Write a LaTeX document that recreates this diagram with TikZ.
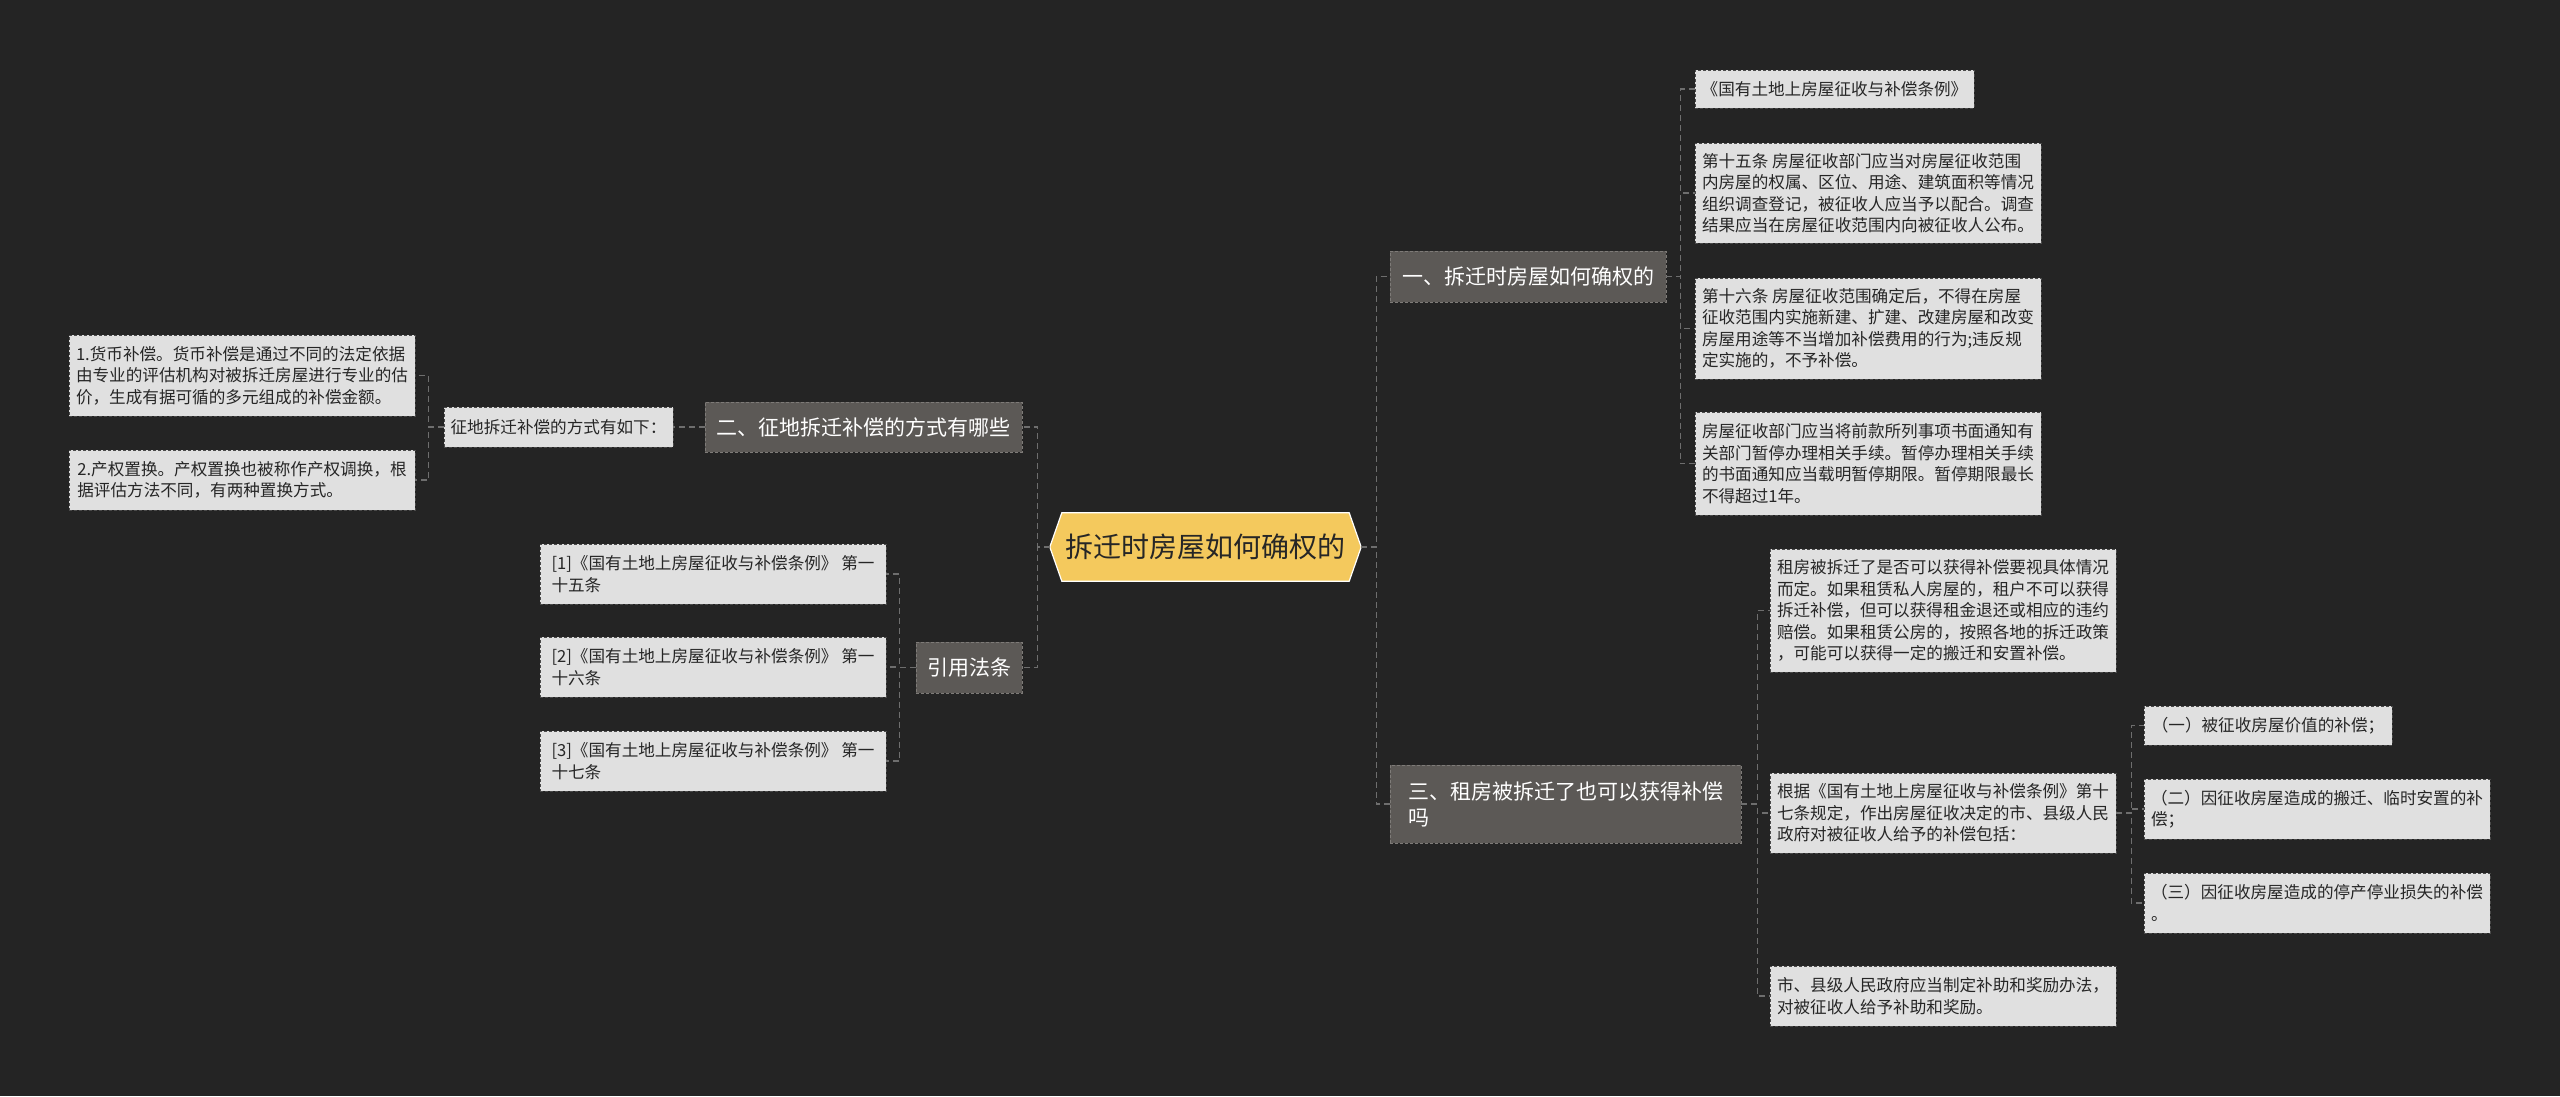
\documentclass[tikz,border=0pt]{standalone}
\usepackage{fontspec}
\newfontfamily\cjk{Noto Sans CJK SC}
\definecolor{bg}{HTML}{242424}
\definecolor{leaffill}{HTML}{E0E0E0}
\definecolor{leafborder}{HTML}{4A4A4A}
\definecolor{leaftext}{HTML}{262626}
\definecolor{topicfill}{HTML}{5C5956}
\definecolor{topicborder}{HTML}{7E7B78}
\definecolor{rootfill}{HTML}{F4C95D}
\definecolor{linkc}{HTML}{6E6E6E}
\begin{document}
\begin{tikzpicture}[x=1pt,y=-1pt,
  leaf/.style={draw=leafborder, dash pattern=on 3pt off 2pt, line width=0.9pt, fill=leaffill, text=leaftext,
    font=\cjk\fontsize{16.6}{21.5}\selectfont, align=left, inner sep=0pt},
  topic/.style={draw=topicborder, dash pattern=on 3pt off 2pt, line width=0.9pt, fill=topicfill, text=white,
    font=\cjk\fontsize{21}{26}\selectfont, align=left, inner sep=0pt},
  link/.style={draw=linkc, line width=1.3pt, dash pattern=on 6pt off 4pt}]
\useasboundingbox (0,0) rectangle (2560,1096);
\fill[bg] (0,0) rectangle (2560,1096);

% root
\node[minimum width=311pt, minimum height=68pt, inner sep=0pt] (root) at (1205.5,547) {};
\path[fill=rootfill, draw=white, line width=1.2pt]
  (root.west) -- ([xshift=12pt]root.north west) -- ([xshift=-12pt]root.north east) -- (root.east)
  -- ([xshift=-12pt]root.south east) -- ([xshift=12pt]root.south west) -- cycle;
\node[text=leaftext, font=\cjk\fontsize{28}{32}\selectfont] (roottext) at (root) {拆迁时房屋如何确权的};

% topics
\node[topic, minimum width=276pt, minimum height=51pt] (n1) at (1528,276.5) {一、拆迁时房屋如何确权的};
\node[topic, minimum width=351pt, minimum height=78pt] (n3) at (1565.5,804) {三、租房被拆迁了也可以获得补偿\\吗};
\node[topic, minimum width=317pt, minimum height=50pt] (n2) at (863.5,427) {二、征地拆迁补偿的方式有哪些};
\node[topic, minimum width=106pt, minimum height=51pt] (ref) at (969,667.5) {引用法条};

% branch 1 leaves
\node[leaf, minimum width=279pt, minimum height=38pt] (a1) at (1834.5,89) {《国有土地上房屋征收与补偿条例》};
\node[leaf, minimum width=346pt, minimum height=100pt] (a2) at (1868,193) {第十五条 房屋征收部门应当对房屋征收范围\\内房屋的权属、区位、用途、建筑面积等情况\\组织调查登记，被征收人应当予以配合。调查\\结果应当在房屋征收范围内向被征收人公布。};
\node[leaf, minimum width=346pt, minimum height=101pt] (a3) at (1868,328.5) {第十六条 房屋征收范围确定后，不得在房屋\\征收范围内实施新建、扩建、改建房屋和改变\\房屋用途等不当增加补偿费用的行为;违反规\\定实施的，不予补偿。};
\node[leaf, minimum width=346pt, minimum height=103pt] (a4) at (1868,463.5) {房屋征收部门应当将前款所列事项书面通知有\\关部门暂停办理相关手续。暂停办理相关手续\\的书面通知应当载明暂停期限。暂停期限最长\\不得超过1年。};

% branch 3 leaves
\node[leaf, minimum width=346pt, minimum height=123pt] (b1) at (1943,610.5) {租房被拆迁了是否可以获得补偿要视具体情况\\而定。如果租赁私人房屋的，租户不可以获得\\拆迁补偿，但可以获得租金退还或相应的违约\\赔偿。如果租赁公房的，按照各地的拆迁政策\\，可能可以获得一定的搬迁和安置补偿。};
\node[leaf, minimum width=346pt, minimum height=80pt] (b2) at (1943,813) {根据《国有土地上房屋征收与补偿条例》第十\\七条规定，作出房屋征收决定的市、县级人民\\政府对被征收人给予的补偿包括：};
\node[leaf, minimum width=346pt, minimum height=60pt] (b3) at (1943,996) {市、县级人民政府应当制定补助和奖励办法，\\对被征收人给予补助和奖励。};
\node[leaf, minimum width=248pt, minimum height=39pt] (c1) at (2268,725.5) {（一）被征收房屋价值的补偿；};
\node[leaf, minimum width=346pt, minimum height=60pt] (c2) at (2317,809) {（二）因征收房屋造成的搬迁、临时安置的补\\偿；};
\node[leaf, minimum width=346pt, minimum height=60pt] (c3) at (2317,903) {（三）因征收房屋造成的停产停业损失的补偿\\。};

% branch 2 leaves
\node[leaf, minimum width=229pt, minimum height=40pt] (zd) at (558.5,427) {征地拆迁补偿的方式有如下：};
\node[leaf, minimum width=346pt, minimum height=81pt] (l1) at (242,375.5) {1.货币补偿。货币补偿是通过不同的法定依据\\由专业的评估机构对被拆迁房屋进行专业的估\\价，生成有据可循的多元组成的补偿金额。};
\node[leaf, minimum width=346pt, minimum height=60pt] (l2) at (242,480) {2.产权置换。产权置换也被称作产权调换，根\\据评估方法不同，有两种置换方式。};

% references
\node[leaf, minimum width=346pt, minimum height=60pt] (r1) at (713,574) {[1]《国有土地上房屋征收与补偿条例》 第一\\十五条};
\node[leaf, minimum width=346pt, minimum height=60pt] (r2) at (713,667) {[2]《国有土地上房屋征收与补偿条例》 第一\\十六条};
\node[leaf, minimum width=346pt, minimum height=60pt] (r3) at (713,761) {[3]《国有土地上房屋征收与补偿条例》 第一\\十七条};

% connectors
\draw[link] (root.east) -- ++(15,0) |- (n1.west);
\draw[link] (root.east) -- ++(15,0) |- (n3.west);
\draw[link] (root.west) -- ++(-12,0) |- (n2.east);
\draw[link] (root.west) -- ++(-12,0) |- (ref.east);

\foreach \t in {a1,a2,a3,a4} \draw[link] (n1.east) -- ++(14,0) |- (\t.west);
\foreach \t in {b1,b2,b3} \draw[link] (n3.east) -- ++(16,0) |- (\t.west);
\foreach \t in {c1,c2,c3} \draw[link] (b2.east) -- ++(15,0) |- (\t.west);

\draw[link] (n2.west) -- (zd.east);
\foreach \t in {l1,l2} \draw[link] (zd.west) -- ++(-15,0) |- (\t.east);
\foreach \t in {r1,r2,r3} \draw[link] (ref.west) -- ++(-16,0) |- (\t.east);
\end{tikzpicture}
\end{document}
